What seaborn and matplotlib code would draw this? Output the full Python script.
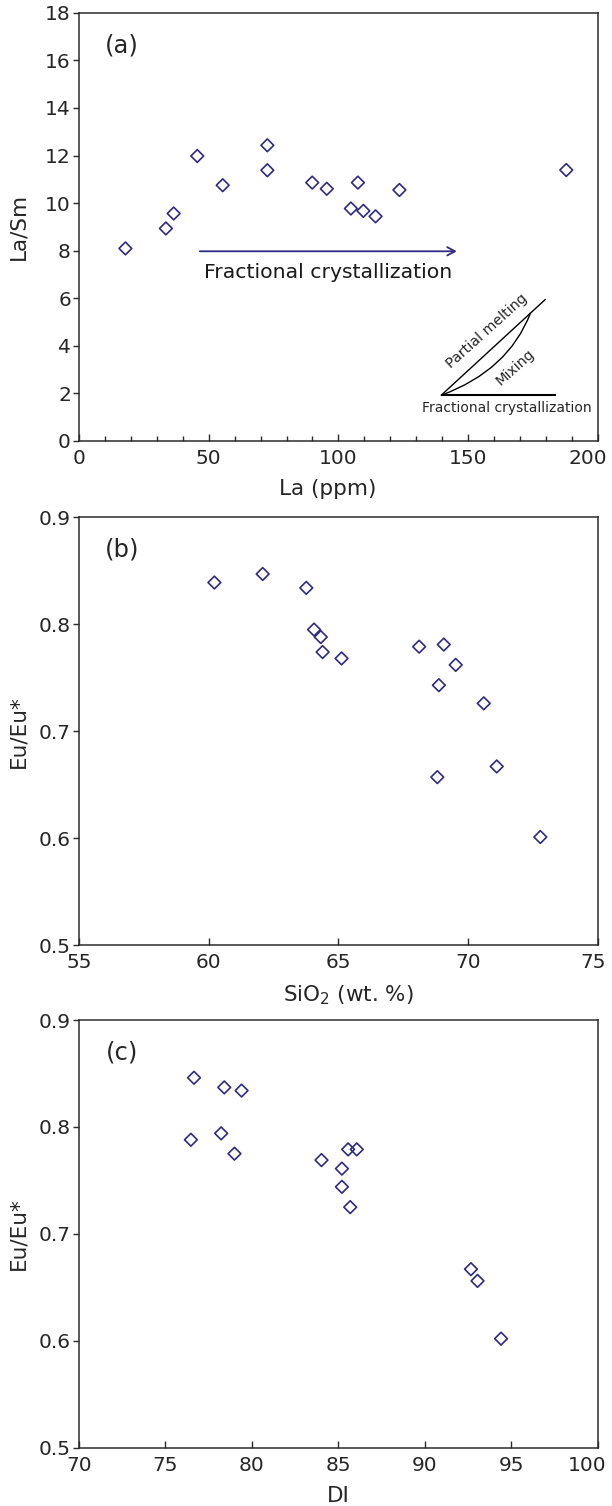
import matplotlib
matplotlib.use("Agg")
import matplotlib.pyplot as plt
import matplotlib.transforms as mtransforms
import seaborn as sns
import pandas as pd
from matplotlib.ticker import MultipleLocator, FormatStrFormatter
from matplotlib.path import Path
from matplotlib.patches import PathPatch

# ---------------- data ----------------
la_ppm = [17.9, 33.5, 36.5, 45.6, 55.4, 72.6, 72.6, 89.9, 95.5, 107.5, 123.5, 187.8, 104.8, 109.6, 114.3]
la_sm = [8.09, 8.93, 9.56, 11.98, 10.75, 12.43, 11.38, 10.86, 10.60, 10.86, 10.55, 11.39, 9.77, 9.67, 9.44]

sio2 = [60.22, 62.08, 63.76, 64.06, 64.32, 64.39, 65.12, 68.11, 69.06, 69.52, 68.87, 70.60, 68.81, 71.10, 72.78]
eu_b = [0.839, 0.847, 0.834, 0.795, 0.788, 0.774, 0.768, 0.779, 0.781, 0.762, 0.743, 0.726, 0.657, 0.667, 0.601]

di = [76.65, 78.40, 79.40, 76.47, 78.22, 78.99, 84.02, 85.56, 86.06, 85.20, 85.20, 85.68, 92.66, 93.04, 94.40]
eu_c = [0.846, 0.837, 0.834, 0.788, 0.794, 0.775, 0.769, 0.779, 0.779, 0.761, 0.744, 0.725, 0.667, 0.656, 0.602]

# schematic inset of panel (a), in data units
inset_origin = (139.6, 1.91)
fc_end = (183.8, 1.91)
pm_end = (179.7, 5.94)
mix_ctrl = (165.5, 2.95)
mix_end = (174.0, 5.37)
arrow_start = (46.6, 7.97)
arrow_end = (145.6, 7.97)

xticks_a = [0, 50, 100, 150, 200]
yticks_a = [0, 2, 4, 6, 8, 10, 12, 14, 16, 18]
xticks_b = [55, 60, 65, 70, 75]
xticks_c = [70, 75, 80, 85, 90, 95, 100]
yticks_bc = [0.5, 0.6, 0.7, 0.8, 0.9]

# ---------------- style ----------------
sns.set_style("white")
plt.rcParams['font.family'] = ['DejaVu Sans']
plt.rcParams['mathtext.fontset'] = 'dejavusans'

MARK = "#2e2a86"
SPINE = "#2b2b2b"
TICK_FS = 14.5
LABEL_FS = 15.5
PANEL_FS = 17.5

fig = plt.figure(figsize=(6.12, 15.06), dpi=100)
left, width, height = 0.129, 0.848, 0.284
ax_a = fig.add_axes([left, 0.7074, width, height])
ax_b = fig.add_axes([left, 0.3725, width, height])
ax_c = fig.add_axes([left, 0.0387, width, height])


def scatter(ax, x, y):
    df = pd.DataFrame({"x": x, "y": y})
    sns.scatterplot(data=df, x="x", y="y", ax=ax, marker="D", s=42,
                    color=MARK, linewidth=1.2, zorder=3)
    coll = ax.collections[-1]
    coll.set_facecolor("none")
    coll.set_edgecolor(MARK)
    coll.set_linewidth(1.2)


def style(ax, xlabel, ylabel, panel, xlabel_x=0.5):
    for sp in ax.spines.values():
        sp.set_visible(True)
        sp.set_color(SPINE)
        sp.set_linewidth(1.1)
    ax.tick_params(axis="x", which="major", direction="in", length=4.8, width=1.0,
                   pad=6, labelsize=TICK_FS, color=SPINE, bottom=True, top=False)
    ax.tick_params(axis="y", which="major", direction="out", length=4.3, width=1.0,
                   pad=1.5, labelsize=TICK_FS, color=SPINE, left=True, right=False)
    ax.set_xlabel(xlabel, fontsize=LABEL_FS)
    ax.set_ylabel(ylabel, fontsize=LABEL_FS)
    ax.xaxis.set_label_coords(xlabel_x, -0.09)
    ax.yaxis.set_label_coords(-0.097, 0.5)
    ax.text(0.083, 0.925, panel, transform=ax.transAxes, fontsize=PANEL_FS,
            ha="center", va="center")


def shift_last_xlabel(ax, dx_px):
    lab = ax.get_xticklabels()[-1]
    off = mtransforms.ScaledTranslation(dx_px / fig.dpi, 0, fig.dpi_scale_trans)
    lab.set_transform(lab.get_transform() + off)


# ---- panel (a)
scatter(ax_a, la_ppm, la_sm)
ax_a.set_xlim(0, 200)
ax_a.set_ylim(0, 18)
ax_a.set_xticks(xticks_a)
ax_a.set_yticks(yticks_a)
ax_a.xaxis.set_minor_locator(MultipleLocator(10))
style(ax_a, "La (ppm)", "La/Sm", "(a)", xlabel_x=0.48)
ax_a.tick_params(axis="x", which="minor", direction="in", length=3.4, width=1.0,
                 color=SPINE, bottom=True, top=False)

ax_a.annotate("", xy=arrow_end, xytext=arrow_start,
              arrowprops=dict(arrowstyle="->,head_length=0.55,head_width=0.3",
                              color=MARK, lw=1.3, shrinkA=0, shrinkB=0))
ax_a.text(48.0, 6.86, "Fractional crystallization", fontsize=14.7,
          ha="left", va="baseline", color="#1a1a1a")

# schematic
ax_a.plot([inset_origin[0], fc_end[0]], [inset_origin[1], fc_end[1]],
          color="black", lw=1.5, solid_capstyle="butt")
ax_a.plot([inset_origin[0], pm_end[0]], [inset_origin[1], pm_end[1]],
          color="black", lw=1.0)
mix_path = Path([inset_origin, mix_ctrl, mix_end],
                [Path.MOVETO, Path.CURVE3, Path.CURVE3])
ax_a.add_patch(PathPatch(mix_path, facecolor="none", edgecolor="black",
                         lw=1.0, transform=ax_a.transData))
ax_a.text(157.2, 4.6, "Partial melting", fontsize=10.3, rotation=42,
          ha="center", va="center", rotation_mode="anchor")
ax_a.text(168.0, 3.1, "Mixing", fontsize=10.3, rotation=42,
          ha="center", va="center", rotation_mode="anchor")
ax_a.text(164.8, 1.38, "Fractional crystallization", fontsize=10.0,
          ha="center", va="center")
shift_last_xlabel(ax_a, -10)

# ---- panel (b)
scatter(ax_b, sio2, eu_b)
ax_b.set_xlim(55, 75)
ax_b.set_ylim(0.5, 0.9)
ax_b.set_xticks(xticks_b)
ax_b.set_yticks(yticks_bc)
ax_b.yaxis.set_major_formatter(FormatStrFormatter("%.1f"))
style(ax_b, r"SiO$_2$ (wt. %)", "Eu/Eu*", "(b)", xlabel_x=0.52)
shift_last_xlabel(ax_b, -5)

# ---- panel (c)
scatter(ax_c, di, eu_c)
ax_c.set_xlim(70, 100)
ax_c.set_ylim(0.5, 0.9)
ax_c.set_xticks(xticks_c)
ax_c.set_yticks(yticks_bc)
ax_c.yaxis.set_major_formatter(FormatStrFormatter("%.1f"))
style(ax_c, "DI", "Eu/Eu*", "(c)")
shift_last_xlabel(ax_c, -11)

fig.savefig("out.png", dpi=100)
